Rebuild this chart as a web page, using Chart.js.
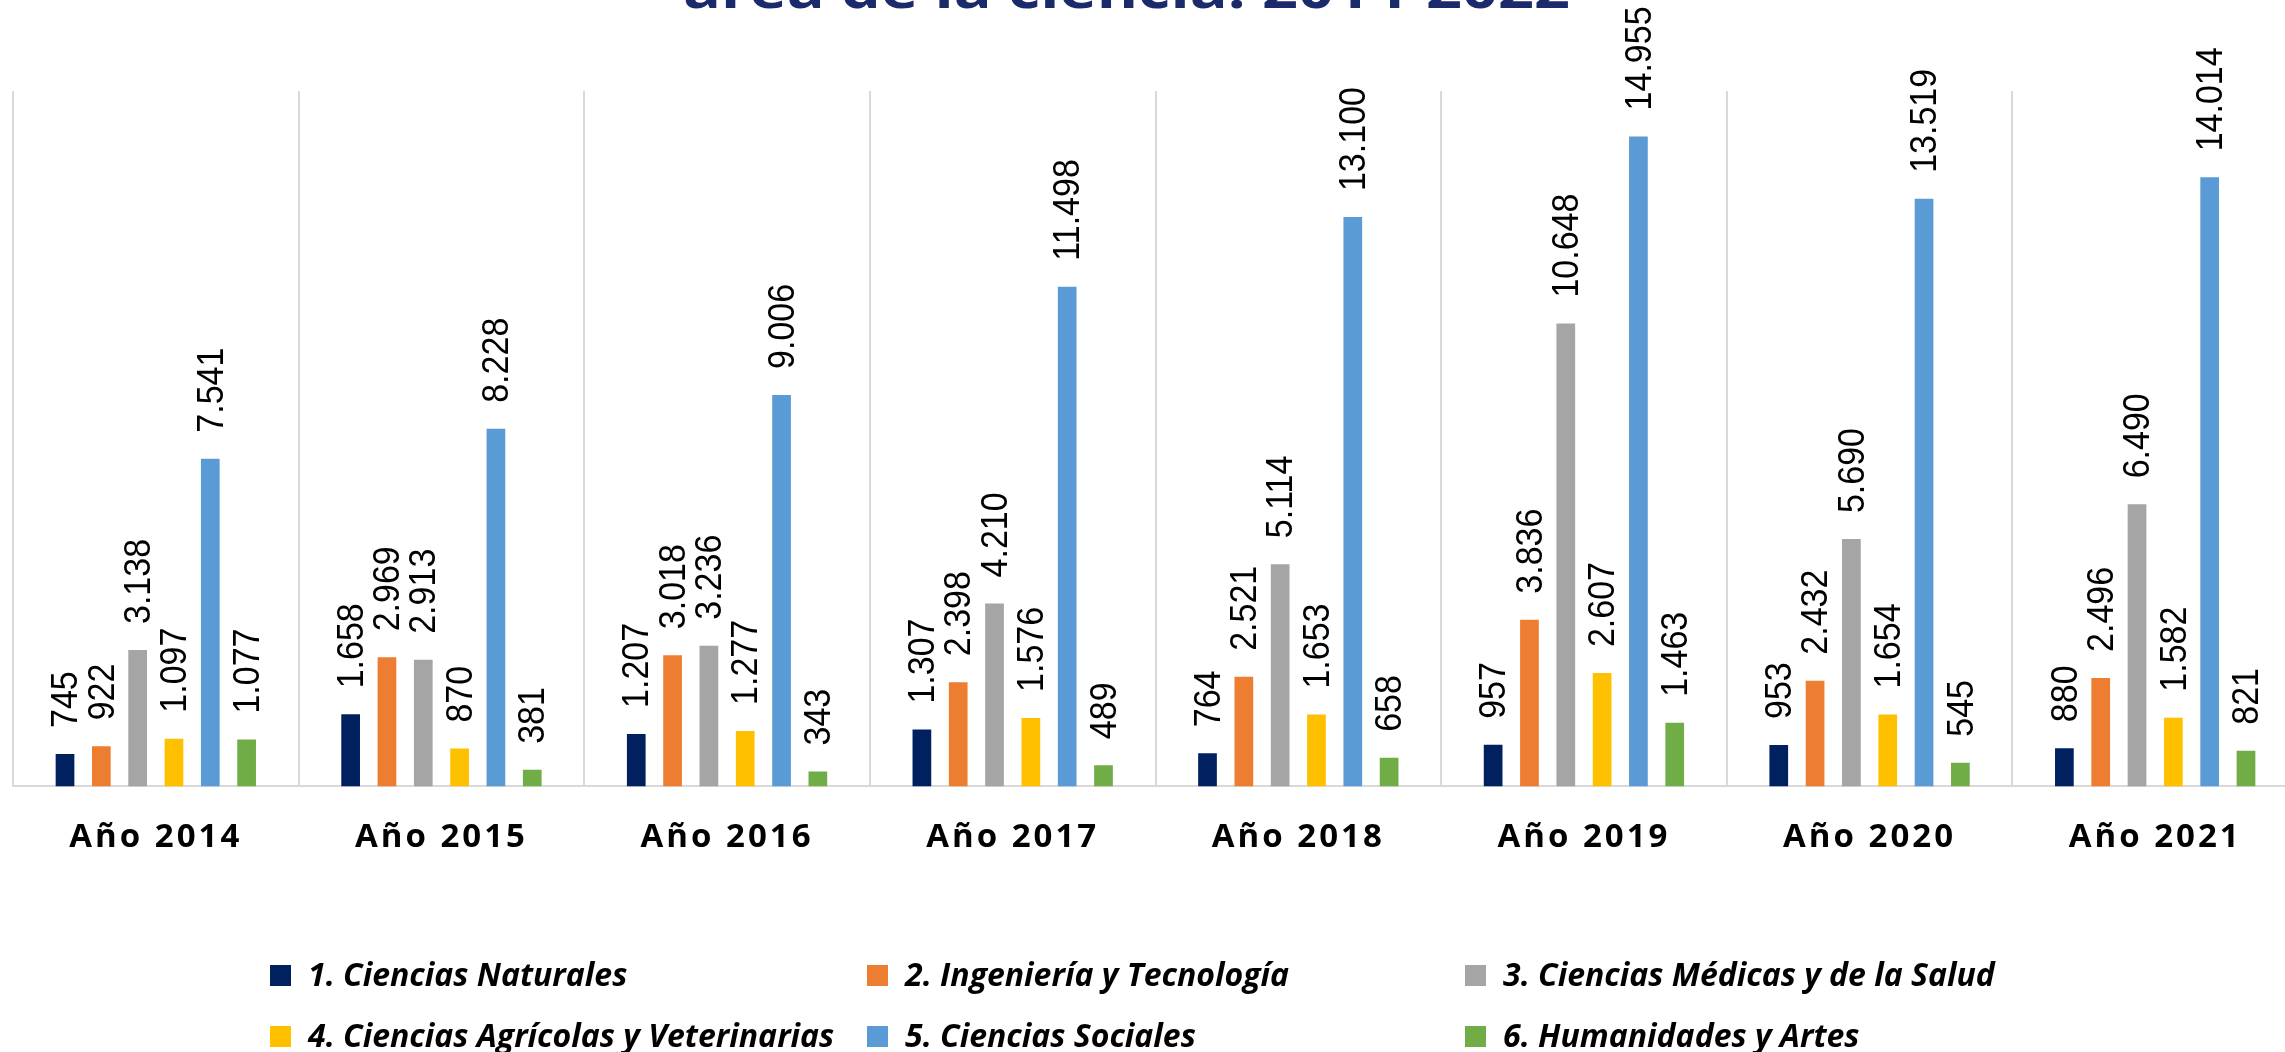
<!DOCTYPE html>
<html>
<head>
<meta charset="utf-8">
<script src="https://cdn.jsdelivr.net/npm/chart.js@4.4.1/dist/chart.umd.min.js"></script>
<style>
  html, body { margin: 0; padding: 0; background: #fff; overflow: hidden; }
  #wrap { position: absolute; left: 0; top: 0; width: 2310px; height: 1052px; }
</style>
</head>
<body>
<div id="wrap"><canvas id="myChart" width="2310" height="1052"></canvas></div>
<script>
// categories
const years = ['Año 2014', 'Año 2015', 'Año 2016', 'Año 2017', 'Año 2018', 'Año 2019', 'Año 2020', 'Año 2021'];

// series values
const naturales = [745, 1658, 1207, 1307, 764, 957, 953, 880];
const ingenieria = [922, 2969, 3018, 2398, 2521, 3836, 2432, 2496];
const medicas = [3138, 2913, 3236, 4210, 5114, 10648, 5690, 6490];
const agricolas = [1097, 870, 1277, 1576, 1653, 2607, 1654, 1582];
const sociales = [7541, 8228, 9006, 11498, 13100, 14955, 13519, 14014];
const humanidades = [1077, 381, 343, 489, 658, 1463, 545, 821];

const seriesNames = [
  '1. Ciencias Naturales',
  '2. Ingeniería y Tecnología',
  '3. Ciencias Médicas y de la Salud',
  '4. Ciencias Agrícolas y Veterinarias',
  '5. Ciencias Sociales',
  '6. Humanidades y Artes'
];
const seriesColors = ['#002060', '#ED7D31', '#A5A5A5', '#FFC000', '#5B9BD5', '#70AD47'];
const titleText = 'área de la ciencia. 2014-2022';

const allSeries = [naturales, ingenieria, medicas, agricolas, sociales, humanidades];

function fmt(v) {
  return String(v).replace(/\B(?=(\d{3})+(?!\d))/g, '.');
}

// rotated value labels above each bar
const barLabels = {
  id: 'barLabels',
  afterDatasetsDraw(chart) {
    const ctx = chart.ctx;
    ctx.save();
    ctx.letterSpacing = '0px';
    ctx.font = '34px "Liberation Sans"';
    ctx.fillStyle = '#000';
    ctx.textAlign = 'left';
    ctx.textBaseline = 'middle';
    chart.data.datasets.forEach((ds, i) => {
      chart.getDatasetMeta(i).data.forEach((bar, j) => {
        ctx.save();
        ctx.translate(bar.x + 1, bar.y - 26);
        ctx.scale(1.08, 1);
        ctx.rotate(-Math.PI / 2);
        ctx.fillText(fmt(ds.data[j]), 0, 1);
        ctx.restore();
      });
    });
    ctx.restore();
  }
};

// legend + cut-off title
const extras = {
  id: 'extras',
  beforeDraw(chart) {
    chart.ctx.letterSpacing = '3px';
  },
  afterDraw(chart) {
    const ctx = chart.ctx;
    ctx.save();
    ctx.letterSpacing = '0px';

    // title (only lower part visible)
    ctx.font = 'bold 52px "Open Sans"';
    const tw = ctx.measureText(titleText).width;
    ctx.translate(683, 8);
    ctx.scale(887 / tw, 1);
    ctx.fillStyle = '#1b2a6b';
    ctx.textAlign = 'left';
    ctx.textBaseline = 'alphabetic';
    ctx.fillText(titleText, 0, 0);
    ctx.setTransform(1, 0, 0, 1, 0, 0);

    // legend
    const colX = [270, 867, 1465];
    const rowY = [975.5, 1036.5];
    ctx.font = 'italic bold 32px "Open Sans"';
    ctx.textBaseline = 'middle';
    seriesNames.forEach((name, i) => {
      const x = colX[i % 3];
      const y = rowY[Math.floor(i / 3)];
      ctx.fillStyle = seriesColors[i];
      ctx.fillRect(x, y - 10.5, 21, 21);
      ctx.fillStyle = '#000';
      ctx.fillText(name, x + 38, y + 1);
    });
    ctx.restore();
  }
};

const ctx = document.getElementById('myChart').getContext('2d');

let options = {
  type: 'bar',
  data: {
    labels: years,
    datasets: allSeries.map((d, i) => ({
      label: seriesNames[i],
      data: d,
      backgroundColor: seriesColors[i],
      borderWidth: 0,
      categoryPercentage: 0.763,
      barPercentage: 0.515
    }))
  },
  options: {
    responsive: false,
    animation: false,
    layout: { padding: { left: 13, right: 12, top: 91, bottom: 164 } },
    plugins: {
      legend: { display: false },
      tooltip: { enabled: false }
    },
    scales: {
      x: {
        offset: true,
        grid: { offset: true, color: '#d9d9d9', lineWidth: 2, drawTicks: false },
        border: { color: '#d9d9d9', width: 2 },
        ticks: {
          color: '#000',
          font: { family: '"Open Sans"', size: 33, weight: 'bold' },
          padding: 31,
          maxRotation: 0,
          autoSkip: false
        }
      },
      y: {
        display: false,
        min: 0,
        max: 16000
      }
    }
  },
  plugins: [barLabels, extras]
};

const myChart = new Chart(ctx, options);
</script>
</body>
</html>
